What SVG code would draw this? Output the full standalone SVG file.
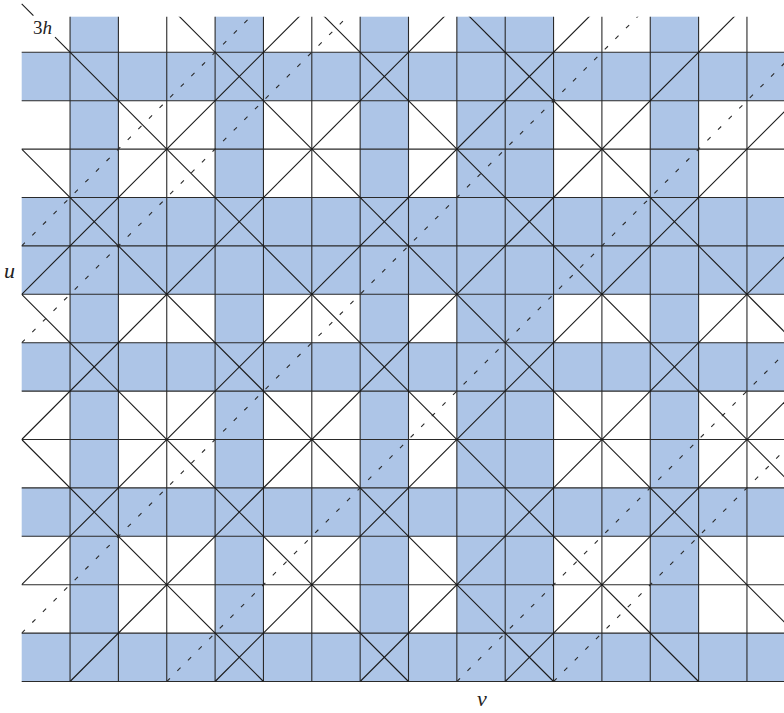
<svg xmlns="http://www.w3.org/2000/svg" width="784" height="713" viewBox="0 0 784 713">
<style>
.fill{fill:#adc5e7;stroke:none}
.grid{stroke:#2a2a2a;stroke-width:1.1;fill:none}
.solid{stroke:#1a1a1a;stroke-width:1.1;fill:none}
.dash{stroke:#2a2a2a;stroke-width:1.1;fill:none;stroke-dasharray:4.5 10.5}
</style>
<defs>
<clipPath id="area"><rect x="21.7" y="16.7" width="762.3" height="664.8"/></clipPath>
</defs>
<rect width="784" height="713" fill="#ffffff"/>
<g id="blue-stripes">
<rect class="fill" x="70.05" y="16.7" width="48.35" height="664.8"/>
<rect class="fill" x="215.10" y="16.7" width="48.35" height="664.8"/>
<rect class="fill" x="360.15" y="16.7" width="48.35" height="664.8"/>
<rect class="fill" x="456.85" y="16.7" width="96.7" height="664.8"/>
<rect class="fill" x="650.25" y="16.7" width="48.35" height="664.8"/>
<rect class="fill" x="21.7" y="52.3" width="762.3" height="48.4"/>
<rect class="fill" x="21.7" y="197.5" width="762.3" height="96.8"/>
<rect class="fill" x="21.7" y="342.7" width="762.3" height="48.4"/>
<rect class="fill" x="21.7" y="487.9" width="762.3" height="48.4"/>
<rect class="fill" x="21.7" y="633.1" width="762.3" height="48.4"/>
</g>
<g id="grid" class="grid">
<path d="M70.05 16.7V681.5M118.40 16.7V681.5M166.75 16.7V681.5M215.10 16.7V681.5M263.45 16.7V681.5M311.80 16.7V681.5M360.15 16.7V681.5M408.50 16.7V681.5M456.85 16.7V681.5M505.20 16.7V681.5M553.55 16.7V681.5M601.90 16.7V681.5M650.25 16.7V681.5M698.60 16.7V681.5M746.95 16.7V681.5"/>
<path d="M21.7 52.3H784M21.7 100.7H784M21.7 149.1H784M21.7 197.5H784M21.7 245.9H784M21.7 294.3H784M21.7 342.7H784M21.7 391.1H784M21.7 439.5H784M21.7 487.9H784M21.7 536.3H784M21.7 584.7H784M21.7 633.1H784M21.7 681.5H784"/>
</g>
<g id="connectors">
<g clip-path="url(#area)">
<g id="solid-down" class="solid">
<path d="M21.70 439.50L263.45 681.50"/>
<path d="M21.70 294.30L408.50 681.50"/>
<path d="M21.70 149.10L553.55 681.50"/>
<path d="M166.75 3.90L795.30 633.10"/>
<path d="M311.80 3.90L795.30 487.90"/>
<path d="M456.85 3.90L795.30 342.70"/>
</g>
<g id="solid-up" class="solid">
<path d="M21.70 294.30L311.80 3.90"/>
<path d="M21.70 439.50L456.85 3.90"/>
<path d="M21.70 584.70L601.90 3.90"/>
<path d="M70.05 681.50L746.95 3.90"/>
<path d="M215.10 681.50L795.30 100.70"/>
<path d="M360.15 681.50L795.30 245.90"/>
<path d="M505.20 681.50L795.30 391.10"/>
</g>
<g id="dashed-up" class="dash">
<path d="M21.70 245.90L263.45 3.90"/>
<path d="M21.70 342.70L360.15 3.90"/>
<path d="M21.70 633.10L650.25 3.90"/>
<path d="M166.75 681.50L795.30 52.30"/>
<path d="M456.85 681.50L795.30 342.70"/>
<path d="M553.55 681.50L795.30 439.50"/>
</g>
</g>
<g id="line-3h" class="solid">
<path d="M21.70 3.90L33.40 15.61"/>
<path d="M55.00 37.23L698.60 681.50"/>
</g>
</g>
<g id="labels" fill="#222">
<text x="33" y="34" font-family="Liberation Serif, serif" font-size="19">3<tspan font-style="italic">h</tspan></text>
<text x="4" y="278" font-family="Liberation Serif, serif" font-style="italic" font-size="22">u</text>
<text x="477" y="706" font-family="Liberation Serif, serif" font-style="italic" font-size="22">v</text>
</g>
</svg>
